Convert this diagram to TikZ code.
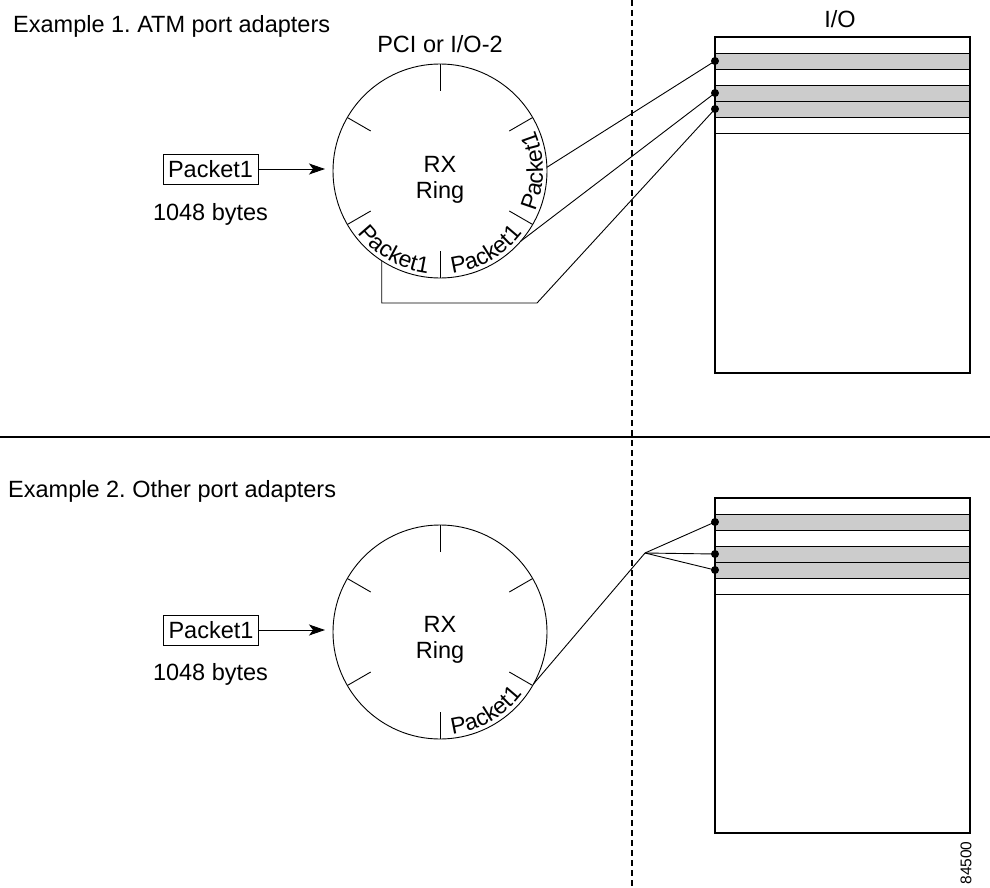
\documentclass[tikz,border=0pt]{standalone}
\usepackage{fontspec}
\setmainfont{Liberation Sans}
\frenchspacing
\usetikzlibrary{arrows.meta,decorations.text}
\newcommand{\arcfont}{\fontsize{23}{27}\selectfont}
\begin{document}
\begin{tikzpicture}[x=1pt,y=1pt,
  font=\fontsize{23.5}{28}\selectfont,
  ring/.style={circle,draw,line width=0.9pt,minimum size=214pt,inner sep=0pt,outer sep=0pt},
  pktbox/.style={draw,line width=0.9pt,minimum width=95pt,minimum height=30pt,inner sep=0pt},
  arr/.style={line width=0.9pt,-{Stealth[length=16pt,width=11pt,inset=4pt]},shorten >=8pt},
  dot/.style={circle,fill=black,inner sep=0pt,minimum size=8pt},
  conn/.style={line width=0.9pt},
  tickline/.style={line width=0.9pt},
  bufout/.style={line width=1.3pt},
  bufrow/.style={line width=0.9pt},
  sep/.style={line width=1.2pt},
  vsep/.style={line width=1.3pt,dash pattern=on 6pt off 4pt},
  lbl/.style={inner sep=0pt},
  arctext/.style={decorate,decoration={text along path,text align=center,text={|\arcfont|Packet1}}}
]
\useasboundingbox (0,0) rectangle (990,-888);

% separators
\draw[vsep] (632,0) -- (632,-888);
\draw[sep] (0,-437) -- (990,-437);

% ---------- Example 1 ----------
\node[lbl,anchor=base west] (title1) at (13,-33) {Example 1. ATM port adapters};
\node[lbl,anchor=base] (pci) at (440,-53) {PCI or I/O-2};
\node[lbl,anchor=base] (io) at (840,-28) {I/O};

\node[ring] (ring1) at (440,-171) {};
\node[lbl,anchor=base] (rx1) at (440,-172) {RX};
\node[lbl,anchor=base] (rg1) at (440,-198) {Ring};
\foreach \a in {90,30,150,210,270,330}
  \draw[tickline] ([shift={(\a:80)}]ring1.center) -- (ring1.\a);
\path[arctext] ([shift={(210:103)}]ring1.center) arc[start angle=210,end angle=270,radius=103];
\path[arctext] ([shift={(270:103)}]ring1.center) arc[start angle=270,end angle=330,radius=103];
\path[arctext] ([shift={(-30:103)}]ring1.center) arc[start angle=-30,end angle=30,radius=103];

\node[pktbox] (pk1) at (210.5,-169) {Packet1};
\node[lbl,anchor=base] (by1) at (210.5,-220) {1048 bytes};
\draw[arr] (pk1.east) -- (pk1.east -| ring1.west);

% buffer 1
\foreach \t/\b in {53/69,85/101,101/117}
  \fill[black!20] (715,-\t) rectangle (970,-\b);
\foreach \y in {53,69,85,101,117,133}
  \draw[bufrow] (715,-\y) -- (970,-\y);
\draw[bufout] (715,-37) rectangle (970,-373);

\coordinate (k1) at (537,-303);
\draw[conn] (715,-61) -- (ring1.2);
\draw[conn] (715,-93) -- (ring1.319);
\draw[conn] (715,-109) -- (k1) -| (ring1.237);
\node[dot] (a1) at (715,-61) {};
\node[dot] (a2) at (715,-93) {};
\node[dot] (a3) at (715,-109) {};

% ---------- Example 2 ----------
\node[lbl,anchor=base west] (title2) at (8,-497) {Example 2. Other port adapters};

\node[ring] (ring2) at (440,-632) {};
\node[lbl,anchor=base] (rx2) at (440,-632) {RX};
\node[lbl,anchor=base] (rg2) at (440,-658) {Ring};
\foreach \a in {90,30,150,210,270,330}
  \draw[tickline] ([shift={(\a:80)}]ring2.center) -- (ring2.\a);
\path[arctext] ([shift={(270:103)}]ring2.center) arc[start angle=270,end angle=330,radius=103];

\node[pktbox] (pk2) at (211,-630) {Packet1};
\node[lbl,anchor=base] (by2) at (210.5,-680) {1048 bytes};
\draw[arr] (pk2.east) -- (pk2.east -| ring2.west);

% buffer 2
\foreach \t/\b in {514/530,546/562,562/578}
  \fill[black!20] (715,-\t) rectangle (970,-\b);
\foreach \y in {514,530,546,562,578,594}
  \draw[bufrow] (715,-\y) -- (970,-\y);
\draw[bufout] (715,-498) rectangle (970,-833);

\coordinate (br) at (645,-553);
\draw[conn] (ring2.331) -- (br);
\draw[conn] (br) -- (715,-522);
\draw[conn] (br) -- (715,-554);
\draw[conn] (br) -- (715,-570);
\node[dot] (b1) at (715,-522) {};
\node[dot] (b2) at (715,-554) {};
\node[dot] (b3) at (715,-570) {};

\node[lbl,rotate=90,font=\fontsize{15.5}{18}\selectfont] (fig) at (966,-863) {84500};
\end{tikzpicture}
\end{document}
